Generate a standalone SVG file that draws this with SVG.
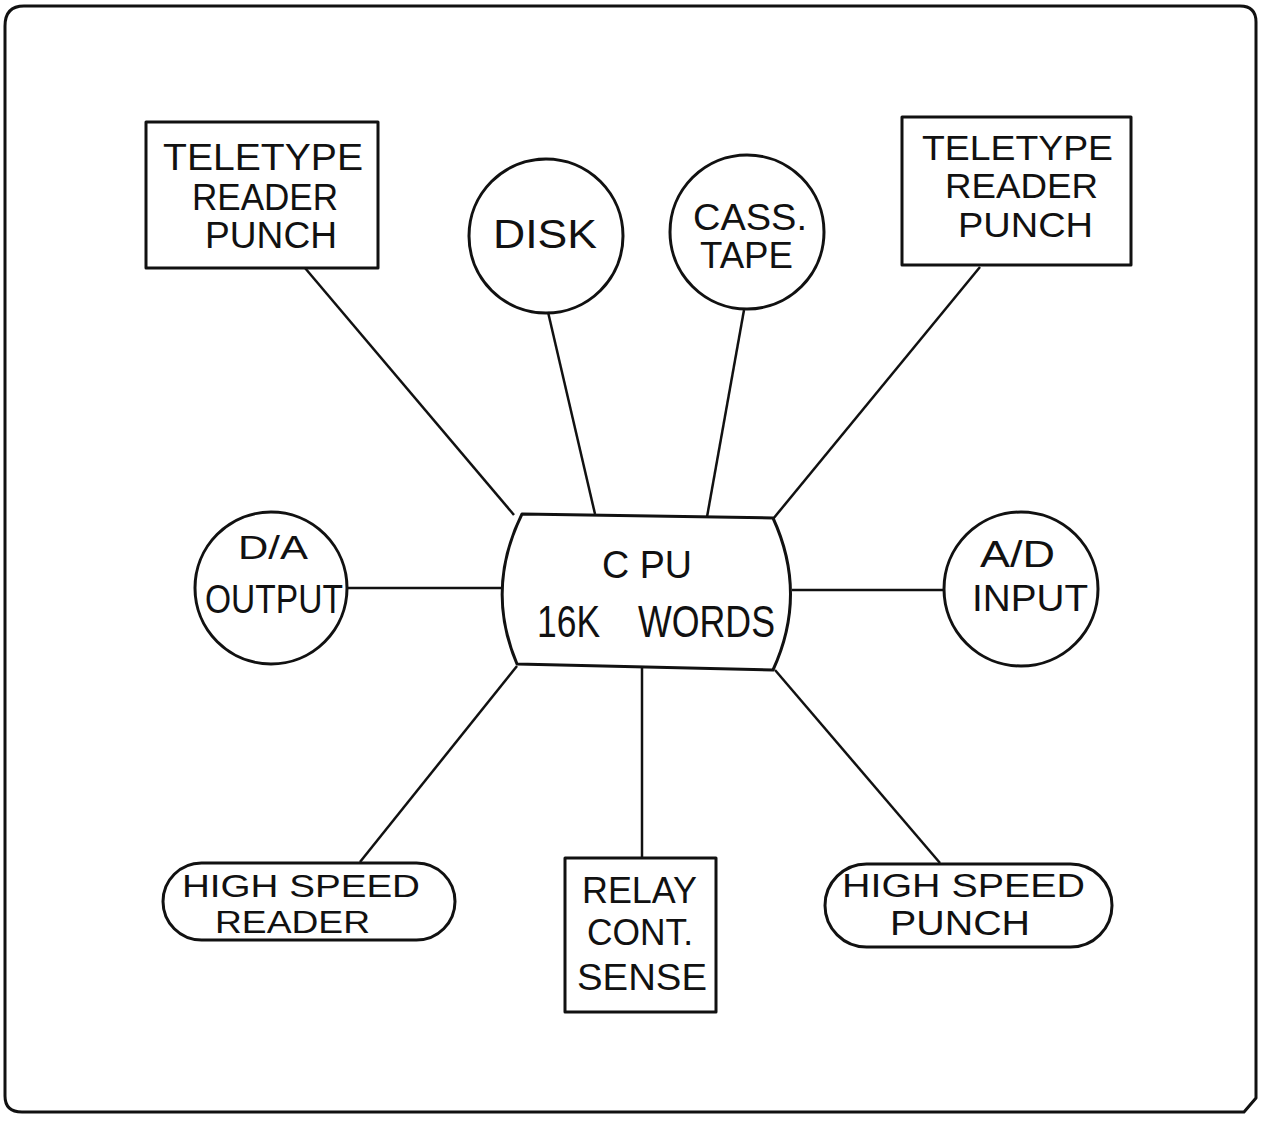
<svg xmlns="http://www.w3.org/2000/svg" width="1261" height="1129" viewBox="0 0 1261 1129">
<style>
.s{fill:none;stroke:#111;stroke-width:3;stroke-linejoin:round}
.t{font-family:"Liberation Sans",Arial,sans-serif;fill:#111;text-anchor:start}
.c{stroke:#111;stroke-width:2.5;fill:none}
</style>
<rect x="0" y="0" width="1261" height="1129" fill="#fff"/>
<path class="s" d="M24 6 L1240 6 Q1256 6 1256 22 L1256 1098 L1244 1112 L22 1112 Q5 1112 5 1096 L5 26 Q5 6 24 6 Z" stroke-width="3.5"/>
<g id="connectors">
<line class="c" x1="305" y1="268" x2="514" y2="515"/>
<line class="c" x1="548" y1="312" x2="595" y2="514"/>
<line class="c" x1="744" y1="310" x2="707" y2="517"/>
<line class="c" x1="980" y1="267" x2="773" y2="519"/>
<line class="c" x1="347" y1="588" x2="501" y2="588"/>
<line class="c" x1="792" y1="590" x2="945" y2="590"/>
<line class="c" x1="360" y1="862" x2="517" y2="666"/>
<line class="c" x1="642" y1="858" x2="642" y2="667"/>
<line class="c" x1="940" y1="863" x2="775" y2="670"/>
</g>
<g id="cpu">
<path class="s" d="M522 514 L773 518 Q808 594 773 670 L517 664 Q485 589 522 514 Z"/>
<text class="t" x="602" y="578" font-size="39" textLength="90" lengthAdjust="spacingAndGlyphs">C PU</text>
<text class="t" x="537" y="637" font-size="45" textLength="63" lengthAdjust="spacingAndGlyphs">16K</text>
<text class="t" x="638" y="637" font-size="45" textLength="137" lengthAdjust="spacingAndGlyphs">WORDS</text>
</g>
<g id="teletype-left">
<rect class="s" x="146" y="122" width="232" height="146"/>
<text class="t" x="163" y="170" font-size="37" textLength="200" lengthAdjust="spacingAndGlyphs">TELETYPE</text>
<text class="t" x="192" y="210" font-size="37" textLength="146" lengthAdjust="spacingAndGlyphs">READER</text>
<text class="t" x="205" y="248" font-size="37" textLength="132" lengthAdjust="spacingAndGlyphs">PUNCH</text>
</g>
<g id="disk">
<circle class="s" cx="546" cy="236" r="77"/>
<text class="t" x="493" y="248" font-size="41" textLength="104" lengthAdjust="spacingAndGlyphs">DISK</text>
</g>
<g id="cass-tape">
<circle class="s" cx="747" cy="232" r="77"/>
<text class="t" x="693" y="230" font-size="36" textLength="114" lengthAdjust="spacingAndGlyphs">CASS.</text>
<text class="t" x="700" y="268" font-size="37" textLength="93" lengthAdjust="spacingAndGlyphs">TAPE</text>
</g>
<g id="teletype-right">
<rect class="s" x="902" y="117" width="229" height="148"/>
<text class="t" x="922" y="160" font-size="35" textLength="191" lengthAdjust="spacingAndGlyphs">TELETYPE</text>
<text class="t" x="945" y="198" font-size="35" textLength="153" lengthAdjust="spacingAndGlyphs">READER</text>
<text class="t" x="958" y="237" font-size="35" textLength="135" lengthAdjust="spacingAndGlyphs">PUNCH</text>
</g>
<g id="da-output">
<circle class="s" cx="271" cy="588" r="76"/>
<text class="t" x="238" y="559" font-size="34" textLength="70" lengthAdjust="spacingAndGlyphs">D/A</text>
<text class="t" x="205" y="613" font-size="41" textLength="138" lengthAdjust="spacingAndGlyphs">OUTPUT</text>
</g>
<g id="ad-input">
<circle class="s" cx="1021" cy="589" r="77"/>
<text class="t" x="980" y="567" font-size="37" textLength="75" lengthAdjust="spacingAndGlyphs">A/D</text>
<text class="t" x="972" y="611" font-size="36" textLength="116" lengthAdjust="spacingAndGlyphs">INPUT</text>
</g>
<g id="hs-reader">
<rect class="s" x="163" y="863" width="292" height="77" rx="38.5"/>
<text class="t" x="182" y="897" font-size="31" textLength="238" lengthAdjust="spacingAndGlyphs">HIGH SPEED</text>
<text class="t" x="215" y="933" font-size="32" textLength="155" lengthAdjust="spacingAndGlyphs">READER</text>
</g>
<g id="relay">
<rect class="s" x="565" y="858" width="151" height="154"/>
<text class="t" x="582" y="903" font-size="36" textLength="115" lengthAdjust="spacingAndGlyphs">RELAY</text>
<text class="t" x="587" y="945" font-size="37" textLength="106" lengthAdjust="spacingAndGlyphs">CONT.</text>
<text class="t" x="577" y="990" font-size="37" textLength="130" lengthAdjust="spacingAndGlyphs">SENSE</text>
</g>
<g id="hs-punch">
<rect class="s" x="825" y="864" width="287" height="83" rx="41.5"/>
<text class="t" x="842" y="897" font-size="33" textLength="243" lengthAdjust="spacingAndGlyphs">HIGH SPEED</text>
<text class="t" x="890" y="935" font-size="35" textLength="140" lengthAdjust="spacingAndGlyphs">PUNCH</text>
</g>
</svg>
